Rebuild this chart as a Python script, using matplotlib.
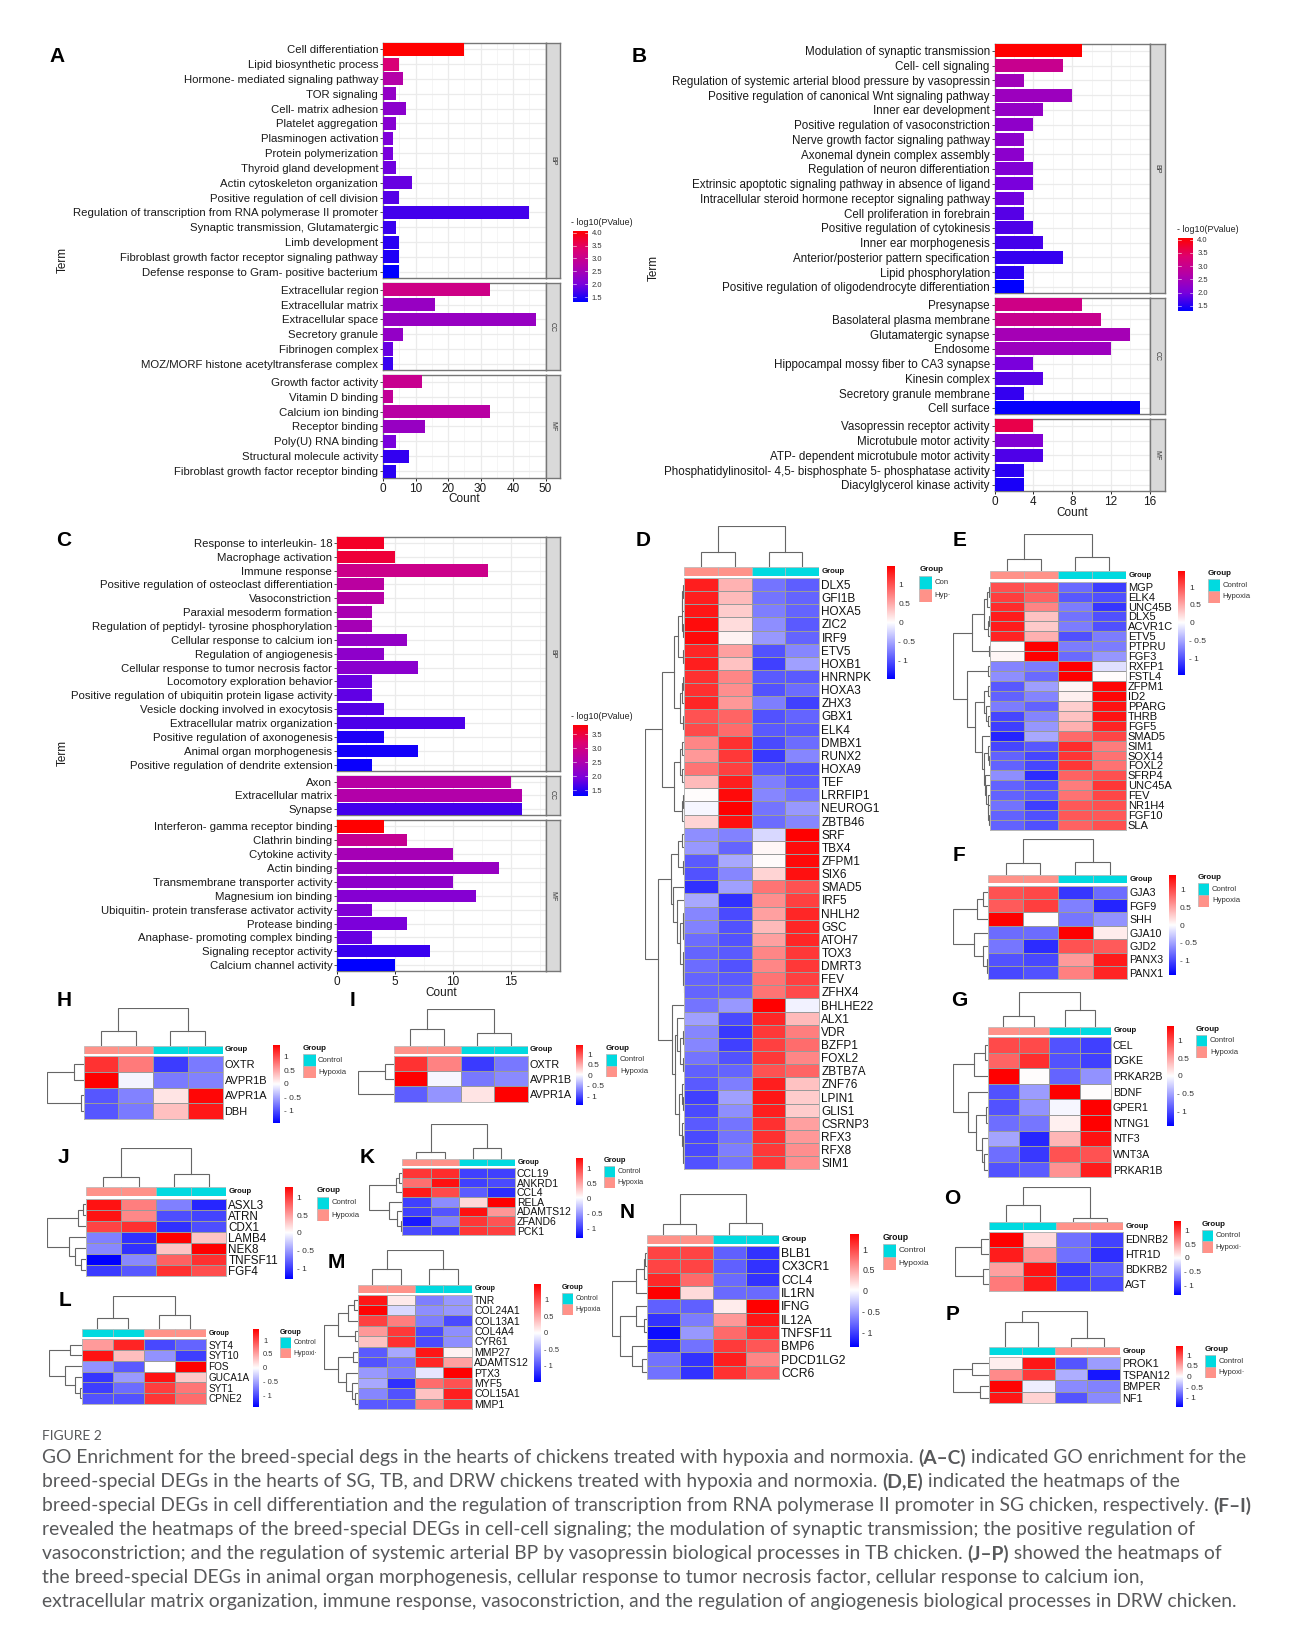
import numpy as np
import matplotlib
matplotlib.use('Agg')
import matplotlib.pyplot as plt
from matplotlib.colors import LinearSegmentedColormap, Normalize

W, H = 1293, 1634
plt.rcParams['font.family'] = ['Liberation Sans', 'DejaVu Sans']

# ---- GO enrichment bars
terms_a = [
    ["Cell differentiation", "Lipid biosynthetic process", "Hormone- mediated signaling pathway", "TOR signaling",
     "Cell- matrix adhesion", "Platelet aggregation", "Plasminogen activation", "Protein polymerization",
     "Thyroid gland development", "Actin cytoskeleton organization", "Positive regulation of cell division",
     "Regulation of transcription from RNA polymerase II promoter", "Synaptic transmission, Glutamatergic",
     "Limb development", "Fibroblast growth factor receptor signaling pathway",
     "Defense response to Gram- positive bacterium"],
    ["Extracellular region", "Extracellular matrix", "Extracellular space", "Secretory granule",
     "Fibrinogen complex", "MOZ/MORF histone acetyltransferase complex"],
    ["Growth factor activity", "Vitamin D binding", "Calcium ion binding", "Receptor binding",
     "Poly(U) RNA binding", "Structural molecule activity", "Fibroblast growth factor receptor binding"]]
counts_a = [[25, 5, 6, 4, 7, 4, 3, 3, 4, 9, 5, 45, 4, 5, 5, 5], [33, 16, 47, 6, 3, 3], [12, 3, 33, 13, 4, 8, 4]]
logp_a = [[4.06, 3.3, 2.7, 2.3, 2.2, 2.15, 2.05, 2.0, 1.95, 1.9, 1.8, 1.7, 1.65, 1.55, 1.5, 1.32],
          [3.1, 2.35, 2.35, 2.3, 1.9, 1.65], [3.0, 2.9, 2.75, 2.35, 2.0, 1.6, 1.55]]

terms_b = [
    ["Modulation of synaptic transmission", "Cell- cell signaling",
     "Regulation of systemic arterial blood pressure by vasopressin",
     "Positive regulation of canonical Wnt signaling pathway", "Inner ear development",
     "Positive regulation of vasoconstriction", "Nerve growth factor signaling pathway",
     "Axonemal dynein complex assembly", "Regulation of neuron differentiation",
     "Extrinsic apoptotic signaling pathway in absence of ligand",
     "Intracellular steroid hormone receptor signaling pathway", "Cell proliferation in forebrain",
     "Positive regulation of cytokinesis", "Inner ear morphogenesis", "Anterior/posterior pattern specification",
     "Lipid phosphorylation", "Positive regulation of oligodendrocyte differentiation"],
    ["Presynapse", "Basolateral plasma membrane", "Glutamatergic synapse", "Endosome",
     "Hippocampal mossy fiber to CA3 synapse", "Kinesin complex", "Secretory granule membrane", "Cell surface"],
    ["Vasopressin receptor activity", "Microtubule motor activity", "ATP- dependent microtubule motor activity",
     "Phosphatidylinositol- 4,5- bisphosphate 5- phosphatase activity", "Diacylglycerol kinase activity"]]
counts_b = [[9, 7, 3, 8, 5, 4, 3, 3, 4, 4, 3, 3, 4, 5, 7, 3, 3], [9, 11, 14, 12, 4, 5, 3, 15], [4, 5, 5, 3, 3]]
logp_b = [[4.05, 3.0, 2.45, 2.4, 2.3, 2.25, 2.2, 2.2, 2.1, 2.0, 1.95, 1.8, 1.75, 1.7, 1.6, 1.55, 1.31],
          [3.1, 3.0, 2.5, 2.4, 2.0, 1.8, 1.6, 1.35], [3.6, 2.1, 1.75, 1.55, 1.45]]

terms_c = [
    ["Response to interleukin- 18", "Macrophage activation", "Immune response",
     "Positive regulation of osteoclast differentiation", "Vasoconstriction", "Paraxial mesoderm formation",
     "Regulation of peptidyl- tyrosine phosphorylation", "Cellular response to calcium ion",
     "Regulation of angiogenesis", "Cellular response to tumor necrosis factor", "Locomotory exploration behavior",
     "Positive regulation of ubiquitin protein ligase activity", "Vesicle docking involved in exocytosis",
     "Extracellular matrix organization", "Positive regulation of axonogenesis", "Animal organ morphogenesis",
     "Positive regulation of dendrite extension"],
    ["Axon", "Extracellular matrix", "Synapse"],
    ["Interferon- gamma receptor binding", "Clathrin binding", "Cytokine activity", "Actin binding",
     "Transmembrane transporter activity", "Magnesium ion binding", "Ubiquitin- protein transferase activator activity",
     "Protease binding", "Anaphase- promoting complex binding", "Signaling receptor activity",
     "Calcium channel activity"]]
counts_c = [[4, 5, 13, 4, 4, 3, 3, 6, 4, 7, 3, 3, 4, 11, 4, 7, 3], [15, 16, 16], [4, 6, 10, 14, 10, 12, 3, 6, 3, 8, 5]]
logp_c = [[3.6, 3.5, 2.9, 2.65, 2.6, 2.45, 2.4, 2.2, 2.15, 2.1, 1.85, 1.8, 1.75, 1.7, 1.45, 1.4, 1.35],
          [2.6, 2.55, 1.65], [3.82, 2.8, 2.4, 2.25, 2.15, 2.05, 2.0, 1.95, 1.85, 1.6, 1.3]]
strips = ["BP", "CC", "MF"]

# ---- heatmaps: rows are genes, columns the four samples
genes_d = ["DLX5", "GFI1B", "HOXA5", "ZIC2", "IRF9", "ETV5", "HOXB1", "HNRNPK", "HOXA3", "ZHX3", "GBX1", "ELK4",
           "DMBX1", "RUNX2", "HOXA9", "TEF", "LRRFIP1", "NEUROG1", "ZBTB46", "SRF", "TBX4", "ZFPM1", "SIX6", "SMAD5",
           "IRF5", "NHLH2", "GSC", "ATOH7", "TOX3", "DMRT3", "FEV", "ZFHX4", "BHLHE22", "ALX1", "VDR", "BZFP1",
           "FOXL2", "ZBTB7A", "ZNF76", "LPIN1", "GLIS1", "CSRNP3", "RFX3", "RFX8", "SIM1"]
values_d = [[1.3, .45, -.8, -.93], [1.3, .4, -.8, -.9], [1.35, .3, -.75, -.9], [1.4, .2, -.65, -.95],
            [1.42, .08, -.6, -.9], [1.25, .55, -1.0, -.7], [1.3, .35, -1.1, -.55], [1.2, .7, -.95, -.95],
            [1.2, .65, -1.0, -.85], [1.25, .6, -.75, -1.1], [1.0, .9, -1.0, -.9], [1.05, .85, -.95, -.95],
            [.7, 1.2, -1.05, -.85], [.6, 1.15, -1.15, -.7], [.8, 1.1, -.95, -1.0], [.4, 1.3, -.75, -.95],
            [.02, 1.42, -.7, -.8], [-.05, 1.48, -.8, -.6], [.25, 1.38, -.85, -.7], [-.65, -.72, -.22, 1.48],
            [-.6, -.9, .05, 1.4], [-.95, -.5, .03, 1.42], [-1.0, -.7, .25, 1.38], [-1.2, -.55, .8, 1.0],
            [-.5, -1.2, .65, 1.1], [-.7, -1.05, .55, 1.25], [-.72, -1.0, .4, 1.25], [-.85, -1.0, .55, 1.25],
            [-.9, -.95, .7, 1.15], [-.85, -1.0, .7, 1.15], [-.9, -.95, .8, 1.1], [-.9, -.9, .8, 1.05],
            [-.8, -.6, 1.48, -.08], [-.55, -1.05, 1.25, .4], [-.7, -1.15, 1.15, .75], [-.7, -1.1, 1.1, .85],
            [-.8, -1.0, 1.15, .7], [-.92, -.9, 1.0, .9], [-.95, -.75, 1.3, .35], [-1.1, -.55, 1.35, .3],
            [-1.05, -.65, 1.3, .3], [-.95, -.8, 1.2, .55], [-1.05, -.8, 1.2, .6], [-1.05, -.75, 1.15, .65],
            [-1.0, -.8, 1.15, .65]]
tree_d = (1, (.56, (.26, (.16, (.06, (.04, (.02, 0, 1), 2), (.03, 3, 4)), (.035, 5, 6)),
                    (.09, (.05, (.03, 7, 8), 9), (.03, 10, 11))),
              (.26, (.09, (.04, 12, 13), (.05, 14, 15)), (.06, (.03, 16, 17), 18))),
          (.655, (.33, (.16, (.05, 19, 20), (.03, 21, 22)),
                  (.28, 23, (.17, 24, (.1, (.03, 25, (.02, 26, 27)), (.02, 28, (.015, 29, (.01, 30, 31))))))),
           (.31, 32, (.24, (.18, 33, (.1, (.03, 34, 35), (.03, 36, 37))),
                      (.13, (.05, 38, (.02, 39, 40)), (.06, 41, (.03, 42, (.02, 43, 44))))))))
coltree_d = (1, (.37, 0, 1), (.37, 2, 3))

genes_e = ["MGP", "ELK4", "UNC45B", "DLX5", "ACVR1C", "ETV5", "PTPRU", "FGF3", "RXFP1", "FSTL4", "ZFPM1", "ID2",
           "PPARG", "THRB", "FGF5", "SMAD5", "SIM1", "SOX14", "FOXL2", "SFRP4", "UNC45A", "FEV", "NR1H4", "FGF10",
           "SLA"]
values_e = [[1.0, .95, -.85, -1.1], [1.1, .9, -.95, -1.0], [1.2, .7, -.75, -1.15], [1.3, .35, -.8, -1.0],
            [1.3, .3, -.75, -1.0], [1.25, .45, -1.0, -.75], [.02, 1.45, -.75, -.75], [.05, 1.45, -.85, -.6],
            [-.7, -.75, 1.45, -.18], [-.65, -.85, 1.45, .02], [-.95, -.55, .05, 1.42], [-.9, -.7, .08, 1.42],
            [-.75, -.9, .28, 1.35], [-1.05, -.7, .35, 1.35], [-1.1, -.6, .45, 1.25], [-1.25, -.5, .85, 1.05],
            [-1.05, -.95, 1.2, .75], [-.9, -1.05, 1.15, .8], [-.9, -1.05, 1.15, .8], [-.65, -1.2, .9, 1.0],
            [-.9, -1.0, .75, 1.15], [-.9, -.95, .8, 1.05], [-.8, -1.1, .95, 1.0], [-.9, -1.0, .95, .95],
            [-.9, -1.0, .9, 1.0]]
tree_e = (1, (.5, (.17, (.07, (.03, 0, 1), 2), (.06, (.02, 3, 4), 5)), (.03, 6, 7)),
          (.61, (.04, 8, 9), (.4, (.16, (.06, 10, 11), (.1, 12, (.04, 13, 14))),
                              (.22, 15, (.17, (.06, 16, (.03, 17, 18)),
                                         (.12, 19, (.09, 20, (.06, 21, (.04, 22, (.02, 23, 24))))))))))
coltree_e = (1, (.32, 0, 1), (.38, 2, 3))

genes_f = ["GJA3", "FGF9", "SHH", "GJA10", "GJD2", "PANX3", "PANX1"]
values_f = [[.95, 1.0, -1.1, -.8], [.9, 1.05, -.7, -1.2], [1.4, .0, -.75, -.6], [-.8, -.8, 1.4, .1],
            [-.75, -1.15, .95, .9], [-.95, -1.0, .55, 1.25], [-1.0, -.95, .7, 1.2]]
tree_f = (1, (.33, (.14, 0, 1), 2), (.4, 3, (.14, 4, (.05, 5, 6))))
coltree_f = (1, (.34, 0, 1), (.36, 2, 3))

genes_g = ["CEL", "DGKE", "PRKAR2B", "BDNF", "GPER1", "NTNG1", "NTF3", "WNT3A", "PRKAR1B"]
values_g = [[1.0, 1.0, -.95, -1.05], [.85, 1.15, -.95, -1.05], [1.4, .02, -.85, -.6], [-.95, -.55, 1.4, .02],
            [-.95, -.6, -.05, 1.4], [-.8, -.75, .08, 1.4], [-.5, -1.2, .4, 1.3], [-.8, -1.1, .95, .95],
            [-.95, -.9, .6, 1.25]]
tree_g = (1, (.39, (.08, 0, 1), 2), (.59, 3, (.35, (.07, 4, 5), (.18, 6, (.11, 7, 8)))))
coltree_g = (1, (.32, 0, 1), (.5, 2, 3))

genes_h = ["OXTR", "AVPR1B", "AVPR1A", "DBH"]
values_h = [[1.15, .75, -1.1, -.75], [1.44, -.06, -.75, -.7], [-.95, -.7, .15, 1.4], [-.95, -.75, .35, 1.3]]
tree_h = (1, (.26, 0, 1), (.07, 2, 3))
coltree_h = (1, (.4, 0, 1), (.4, 2, 3))

genes_i = ["OXTR", "AVPR1B", "AVPR1A"]
values_i = [[1.15, .7, -1.1, -.75], [1.43, -.05, -.75, -.65], [-.9, -.6, .15, 1.43]]
tree_i = (1, (.25, 0, 1), 2)
coltree_i = (1, (.45, 0, 1), (.36, 2, 3))

genes_j = ["ASXL3", "ATRN", "CDX1", "LAMB4", "NEK8", "TNFSF11", "FGF4"]
values_j = [[1.2, .65, -.65, -1.1], [1.2, .6, -.9, -.95], [.95, 1.05, -1.05, -.9], [-.65, -1.05, 1.3, .3],
            [-.6, -1.05, .3, 1.3], [-1.3, -.6, .8, 1.05], [-1.0, -.85, 1.05, .9]]
tree_j = (1, (.2, (.08, 0, 1), 2), (.43, 3, (.28, 4, (.13, 5, 6))))
coltree_j = (1, (.27, 0, 1), (.33, 2, 3))

genes_k = ["CCL19", "ANKRD1", "CCL4", "RELA", "ADAMTS12", "ZFAND6", "PCK1"]
values_k = [[1.05, 1.1, -1.0, -1.0], [.75, 1.25, -1.0, -.95], [1.2, .95, -.85, -1.1], [-1.0, -.6, .2, 1.34],
            [-1.0, -.9, 1.25, .55], [-1.2, -.65, 1.05, .9], [-.95, -1.0, 1.05, 1.0]]
tree_k = (1, (.2, (.09, 0, 1), 2), (.4, 3, (.17, 4, (.05, 5, 6))))
coltree_k = (1, (.2, 0, 1), (.32, 2, 3))

genes_l = ["SYT4", "SYT10", "FOS", "GUCA1A", "SYT1", "CPNE2"]
values_l = [[.55, 1.2, -1.0, -.85], [1.3, .35, -.6, -1.05], [-.6, -.9, .0, 1.4], [-1.1, -.55, 1.3, .3],
            [-1.05, -.8, 1.05, .75], [-.95, -.95, 1.1, .8]]
tree_l = (1, (.35, 0, 1), (.52, 2, (.2, 3, (.06, 4, 5))))
coltree_l = (1, (.33, 0, 1), (.42, 2, 3))

genes_m = ["TNR", "COL24A1", "COL13A1", "COL4A4", "CYR61", "MMP27", "ADAMTS12", "PTX3", "MYF5", "COL15A1", "MMP1"]
values_m = [[1.35, .12, -.75, -.6], [1.45, -.22, -.65, -.6], [1.1, .75, -.75, -1.05], [.6, 1.15, -1.05, -.65],
            [.35, 1.2, -1.05, -.65], [-.95, -.5, 1.35, .08], [-1.0, -.8, 1.25, .55], [-.6, -.75, -.15, 1.48],
            [-.5, -1.2, .85, 1.0], [-.7, -1.0, .35, 1.3], [-.95, -.95, .75, 1.15]]
tree_m = (1, (.58, (.3, (.13, 0, 1), 2), (.08, 3, 4)), (.6, (.16, 5, 6), (.36, 7, (.19, 8, (.08, 9, 10)))))
coltree_m = (1, (.46, 0, 1), (.46, 2, 3))

genes_n = ["BLB1", "CX3CR1", "CCL4", "IL1RN", "IFNG", "IL12A", "TNFSF11", "BMP6", "PDCD1LG2", "CCR6"]
values_n = [[1.0, 1.0, -.85, -1.1], [1.0, 1.0, -.85, -1.1], [1.15, .8, -.8, -1.1], [1.37, .2, -.8, -.8],
            [-.85, -.85, .1, 1.37], [-1.1, -.7, .55, 1.25], [-1.3, -.55, .8, 1.1], [-1.15, -.75, 1.05, .9],
            [-.75, -1.1, 1.2, .65], [-.75, -1.1, 1.1, .85]]
tree_n = (1, (.3, (.08, (.03, 0, 1), 2), 3), (.77, (.3, 4, (.06, 5, 6)), (.42, 7, (.12, 8, 9))))
coltree_n = (1, (.26, 0, 1), (.29, 2, 3))

genes_o = ["EDNRB2", "HTR1D", "BDKRB2", "AGT"]
values_o = [[1.35, .2, -.75, -1.0], [1.2, .55, -.75, -1.1], [.5, 1.25, -1.05, -.85], [.7, 1.2, -1.0, -.95]]
tree_o = (1, (.23, 0, 1), (.18, 2, 3))
coltree_o = (1, (.5, 0, 1), (.13, 2, 3))

genes_p = ["PROK1", "TSPAN12", "BMPER", "NF1"]
values_p = [[.1, 1.3, -.95, -.55], [.65, 1.1, -.45, -1.3], [1.4, -.1, -.65, -.7], [1.3, .25, -.95, -.65]]
tree_p = (1, (.46, 0, 1), (.23, 2, 3))
coltree_p = (1, (.69, 0, 1), (.26, 2, 3))

hyp_first = ["H", "H", "C", "C"]
ctl_first = ["C", "C", "H", "H"]
caption_head = "FIGURE 2"
caption_lines = [
    [("GO Enrichment for the breed-special degs in the hearts of chickens treated with hypoxia and normoxia. ", 0),
     ("(A–C)", 1), (" indicated GO enrichment for the", 0)],
    [("breed-special DEGs in the hearts of SG, TB, and DRW chickens treated with hypoxia and normoxia. ", 0),
     ("(D,E)", 1), (" indicated the heatmaps of the", 0)],
    [("breed-special DEGs in cell differentiation and the regulation of transcription from RNA polymerase II promoter in SG chicken, respectively. ", 0),
     ("(F–I)", 1)],
    [("revealed the heatmaps of the breed-special DEGs in cell-cell signaling; the modulation of synaptic transmission; the positive regulation of", 0)],
    [("vasoconstriction; and the regulation of systemic arterial BP by vasopressin biological processes in TB chicken. ", 0),
     ("(J–P)", 1), (" showed the heatmaps of", 0)],
    [("the breed-special DEGs in animal organ morphogenesis, cellular response to tumor necrosis factor, cellular response to calcium ion,", 0)],
    [("extracellular matrix organization, immune response, vasoconstriction, and the regulation of angiogenesis biological processes in DRW chicken.", 0)]]

# ---- layout, in pixels of the final picture
gg_cmap = LinearSegmentedColormap.from_list('gg', ['#0000FF', '#7A00DC', '#B400A8', '#DE0070', '#FF0000'])
heat_cmap = LinearSegmentedColormap.from_list('bwr2', ['#0000FF', '#FFFFFF', '#FF0000'])
group_col = {"C": '#00DAE0', "H": '#FF9289'}

fig = plt.figure(figsize=(W / 100, H / 100), dpi=100, facecolor='white')


def pax(x0, y0, x1, y1, **kw):
    return fig.add_axes([x0 / W, 1 - y1 / H, (x1 - x0) / W, (y1 - y0) / H], **kw)


def txt(x, y, s, **kw):
    kw.setdefault('va', 'center')
    kw.setdefault('ha', 'left')
    return fig.text(x / W, 1 - y / H, s, **kw)


def color_bar(box, lo, hi, cmap, ticks, labels, fs, marks=False):
    ax = pax(*box)
    ax.imshow(np.linspace(hi, lo, 256)[:, None], aspect='auto', cmap=cmap, vmin=lo, vmax=hi, extent=[0, 1, lo, hi])
    ax.set_xticks([])
    ax.yaxis.tick_right()
    ax.set_yticks(ticks)
    ax.set_yticklabels(labels, fontsize=fs, color='#333333')
    ax.tick_params(axis='y', length=0, pad=3)
    for s in ax.spines.values():
        s.set_visible(False)
    if marks:
        for t in ticks:
            ax.plot([0, .2], [t, t], color='white', lw=.4)
            ax.plot([.8, 1], [t, t], color='white', lw=.4)
        ax.set_xlim(0, 1)


def bar_panel(letter, terms, counts, logp, x0, x1, strip_x, spans, xmax, xticks, minor, lo, hi, cb, cb_ticks, title_xy,
              count_xy, term_xy, letter_xy, fs):
    norm = Normalize(lo, hi)
    for i, (top, bottom) in enumerate(spans):
        ax = pax(x0, top, x1, bottom)
        n = len(terms[i])
        ax.barh(range(n), counts[i], height=.88, color=gg_cmap(norm(logp[i])), zorder=3)
        ax.set_xlim(0, xmax)
        ax.set_ylim(n - .56, -.44)
        ax.set_yticks(range(n))
        ax.set_yticklabels(terms[i], fontsize=fs, color='#1a1a1a')
        ax.set_xticks(xticks)
        ax.set_xticks(minor, minor=True)
        ax.grid(True, which='major', color='#ebebeb', lw=.9, zorder=0)
        ax.grid(True, which='minor', axis='x', color='#f2f2f2', lw=.5, zorder=0)
        ax.tick_params(axis='y', length=2, width=.6, pad=1.5, color='#333333')
        ax.tick_params(axis='x', which='minor', length=0)
        if i == len(spans) - 1:
            ax.tick_params(axis='x', labelsize=8.5, length=2, width=.6, pad=1.5, labelcolor='#1a1a1a')
        else:
            ax.tick_params(axis='x', length=0, labelbottom=False)
        for s in ax.spines.values():
            s.set_color('#777777')
            s.set_linewidth(1.0)
        st = pax(x1, top, strip_x, bottom)
        st.set_facecolor('#d9d9d9')
        st.set_xticks([])
        st.set_yticks([])
        for s in st.spines.values():
            s.set_color('#777777')
            s.set_linewidth(1.0)
        st.text(.5, .5, strips[i], rotation=-90, fontsize=5, color='#333333', ha='center', va='center',
                transform=st.transAxes)
    color_bar(cb, lo, hi, gg_cmap, cb_ticks, ['%.1f' % t for t in cb_ticks], 5.5, marks=True)
    txt(title_xy[0], title_xy[1], "- log10(PValue)", fontsize=6.4, color='#222222')
    txt(count_xy[0], count_xy[1], "Count", fontsize=8.5, ha='center', color='#1a1a1a')
    txt(term_xy[0], term_xy[1], "Term", fontsize=8.5, rotation=90, ha='center', color='#1a1a1a')
    txt(letter_xy[0], letter_xy[1], letter, fontsize=15, fontweight='bold', color='black')


def tree_lines(node):
    # walk a (height, left, right) tree, leaves are row numbers
    if not isinstance(node, tuple):
        return node + .5, 0.0, []
    h, left, right = node
    pl, hl, sl = tree_lines(left)
    pr, hr, sr = tree_lines(right)
    return (pl + pr) / 2, h, sl + sr + [([pl, pl, pr, pr], [hl, h, h, hr])]


def heat_panel(letter, genes, values, groups, tree, coltree, heat, annot, rows, root_x, col_root, cb, vm, leg, fs,
               letter_xy, leg_labels=("Control", "Hypoxia"), leg_fs=5.6):
    vals = np.array(values)
    ax = pax(heat[0], rows[0], heat[1], rows[1])
    ax.pcolormesh(vals, cmap=heat_cmap, vmin=-vm, vmax=vm, edgecolors='#9a9a9a', linewidth=.5)
    ax.set_ylim(len(genes), 0)
    ax.set_xticks([])
    ax.yaxis.tick_right()
    ax.set_yticks(np.arange(len(genes)) + .5)
    ax.set_yticklabels(genes, fontsize=fs, color='#111111')
    ax.tick_params(axis='y', length=0, pad=1.5)
    for s in ax.spines.values():
        s.set_color('#b5b5b5')
        s.set_linewidth(.7)
    an = pax(heat[0], annot[0], heat[1], annot[1])
    for j, g in enumerate(groups):
        an.bar(j + .5, 1, width=1, color=group_col[g], edgecolor='#b5b5b5', linewidth=.5)
    an.set_xlim(0, 4)
    an.set_ylim(0, 1)
    an.axis('off')
    txt(heat[1] + 2.5, (annot[0] + annot[1]) / 2, "Group", fontsize=leg_fs, fontweight='bold', color='#111111')

    tr = pax(root_x, rows[0], heat[0], rows[1])
    for xs, ys in tree_lines(tree)[2]:
        tr.plot(ys, xs, color='#666666', lw=.8, solid_joinstyle='miter')
    tr.set_xlim(1, 0)
    tr.set_ylim(len(genes), 0)
    tr.axis('off')
    tc = pax(heat[0], col_root, heat[1], annot[0])
    for xs, ys in tree_lines(coltree)[2]:
        tc.plot(xs, ys, color='#666666', lw=.8, solid_joinstyle='miter')
    tc.set_xlim(0, 4)
    tc.set_ylim(0, 1)
    tc.axis('off')

    ticks = [1, .5, 0, -.5, -1]
    color_bar(cb, -vm, vm, heat_cmap, ticks, ["1", "0.5", "0", "- 0.5", "- 1"], leg_fs + .4)

    lx, ty, bw, by, bh = leg
    txt(lx, ty, "Group", fontsize=leg_fs + .2, fontweight='bold', color='#111111')
    lg = pax(lx, by, lx + bw, by + 2 * bh)
    for k, g in enumerate(["C", "H"]):
        lg.bar(.5, 1, width=1, bottom=1 - k, color=group_col[g], edgecolor='#b5b5b5', linewidth=.5)
    lg.set_xlim(0, 1)
    lg.set_ylim(0, 2)
    lg.axis('off')
    for k, lab in enumerate(leg_labels):
        txt(lx + bw + 2.5, by + (k + .5) * bh, lab, fontsize=leg_fs, color='#333333')
    txt(letter_xy[0], letter_xy[1], letter, fontsize=15, fontweight='bold', color='black')


bar_panel("A", terms_a, counts_a, logp_a, 383, 545.6, 559.5, [(42.7, 278.3), (283.3, 370.3), (375.3, 477.7)],
          50, [0, 10, 20, 30, 40, 50], [5, 15, 25, 35, 45], 1.32, 4.06, (573.3, 231, 587.5, 302),
          [1.5, 2.0, 2.5, 3.0, 3.5, 4.0], (571, 222.7), (464, 499), (63, 260), (49, 56), 8.2)
bar_panel("B", terms_b, counts_b, logp_b, 994.7, 1149.8, 1164.5, [(44.3, 293.3), (298.3, 414.3), (419.3, 491.3)],
          16, [0, 4, 8, 12, 16], [2, 6, 10, 14], 1.31, 4.05, (1178, 238.3, 1193, 311),
          [1.5, 2.0, 2.5, 3.0, 3.5, 4.0], (1177, 229.7), (1072, 513), (654, 268), (632, 56), 8.4)
bar_panel("C", terms_c, counts_c, logp_c, 337.2, 545.6, 559.5, [(536.7, 770.7), (775.7, 815.3), (820.3, 971.3)],
          18, [0, 5, 10, 15], [2.5, 7.5, 12.5, 17.5], 1.3, 3.82, (573.3, 725, 587.5, 796),
          [1.5, 2.0, 2.5, 3.0, 3.5], (571, 716.7), (441, 992.7), (63, 753), (55.7, 540), 8.2)

heat_panel("D", genes_d, values_d, hyp_first, tree_d, coltree_d, (684, 819.3), (566.7, 575.7), (578, 1169.3), 644.7,
           526.3, (886.7, 565.7, 894.3, 678.7), 1.48, (919.3, 569.3, 13, 575.7, 13), 8.5, (635.7, 540),
           leg_labels=("Con", "Hyp·"))
heat_panel("E", genes_e, values_e, hyp_first, tree_e, coltree_e, (989.7, 1125.7), (571.3, 579.3), (581.7, 830), 953.3,
           534, (1178.3, 570.7, 1185, 675), 1.46, (1208, 573.7, 12, 579, 12), 8.0, (953, 540))
heat_panel("F", genes_f, values_f, hyp_first, tree_f, coltree_f, (988.3, 1127.3), (875.3, 883.3), (885.7, 979.3), 953.3,
           839.3, (1169, 875, 1175.7, 975), 1.4, (1197.7, 877.7, 11.7, 883.3, 11.6), 7.7, (953, 855))
heat_panel("G", genes_g, values_g, hyp_first, tree_g, coltree_g, (988, 1110.7), (1027, 1035), (1037, 1177.3), 953.3,
           992, (1166.7, 1026.3, 1173.3, 1125.7), 1.41, (1195.7, 1029.3, 11.7, 1035, 11.4), 7.7, (951, 1000))
heat_panel("H", genes_h, values_h, hyp_first, tree_h, coltree_h, (83.6, 222.5), (1045.7, 1054), (1056.3, 1119), 46.5,
           1008.3, (272.6, 1045, 279.5, 1122.7), 1.44, (302.9, 1048.3, 12.6, 1054, 12), 7.9, (56.8, 1000))
heat_panel("I", genes_i, values_i, hyp_first, tree_i, coltree_i, (393.6, 527.5), (1045.7, 1053.7), (1056, 1101.7), 358,
           1009.3, (576, 1045, 583, 1105.3), 1.43, (605.6, 1048.3, 11.8, 1054, 11.5), 7.8, (349.6, 1000))
heat_panel("J", genes_j, values_j, hyp_first, tree_j, coltree_j, (85.9, 226.3), (1187.3, 1196.3), (1198.7, 1275.7), 47.2,
           1148.3, (284.9, 1186.7, 292.5, 1279), 1.3, (316.6, 1190.3, 12.7, 1196.7, 12.3), 8.4, (57.6, 1157.7))
heat_panel("K", genes_k, values_k, hyp_first, tree_k, coltree_k, (402.4, 514.9), (1158.7, 1166), (1168.3, 1235.3), 368.7,
           1124.3, (575.7, 1158, 582.6, 1238.3), 1.34, (603.7, 1161, 11.1, 1166, 11), 7.5, (359.9, 1157.7), leg_fs=5.2)
heat_panel("L", genes_l, values_l, ctl_first, tree_l, coltree_l, (81.7, 206), (1329.3, 1337.3), (1339.3, 1403.7), 49,
           1296.3, (253, 1329, 259, 1406.7), 1.4, (279.5, 1332, 11.5, 1337, 10.7), 7.2, (58.7, 1300),
           leg_labels=("Control", "Hypoxi·"), leg_fs=5.0)
heat_panel("M", genes_m, values_m, hyp_first, tree_m, coltree_m, (358, 472), (1284.7, 1292.7), (1294.7, 1409), 323.9,
           1250, (533.6, 1284, 540, 1381.7), 1.48, (561.6, 1287.3, 11.1, 1292.7, 11.2), 7.5, (327.7, 1262.3), leg_fs=5.0)
heat_panel("N", genes_n, values_n, hyp_first, tree_n, coltree_n, (646.5, 778.8), (1235, 1243.7), (1246, 1379), 612,
           1194.3, (850, 1234, 858, 1347.3), 1.37, (883, 1237.7, 13.3, 1243.7, 13.2), 8.8, (620, 1213), leg_fs=6.0)
heat_panel("O", genes_o, values_o, ctl_first, tree_o, coltree_o, (989.4, 1123.3), (1222.3, 1230), (1232, 1291.3), 954.7,
           1186.7, (1173.5, 1221.3, 1180, 1294.7), 1.35, (1201.6, 1224.3, 11.4, 1230, 11.4), 7.7, (943.7, 1198.3),
           leg_labels=("Control", "Hypoxi·"))
heat_panel("P", genes_p, values_p, ctl_first, tree_p, coltree_p, (988.6, 1120.4), (1347.3, 1355.3), (1357.3, 1403.3), 953,
           1311, (1175.5, 1346.3, 1182, 1406.7), 1.43, (1204.5, 1349.7, 11.5, 1355.3, 11.5), 7.8, (945.3, 1315),
           leg_labels=("Control", "Hypoxi·"))

# ---- caption
CAP_FONT = ['Lato', 'DejaVu Sans']
txt(42, 1435.7, caption_head, fontsize=10, family=CAP_FONT, color='#58595b')
renderer = fig.canvas.get_renderer()
for i, line in enumerate(caption_lines):
    x = 42
    y = 1457.7 + 24 * i
    for part, bold in line:
        t = txt(x, y, part, fontsize=13.85, family=CAP_FONT, color='#58595b', fontweight='bold' if bold else 'normal')
        x += t.get_window_extent(renderer).width

fig.savefig('out.png', dpi=100, facecolor='white')
